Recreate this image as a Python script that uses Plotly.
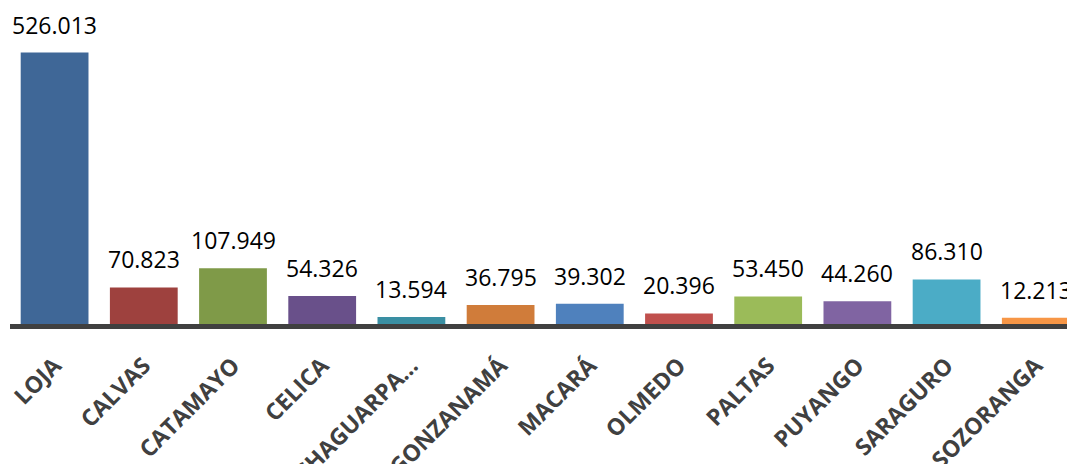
import plotly.graph_objects as go

cantones = ["LOJA", "CALVAS", "CATAMAYO", "CELICA", "CHAGUARPA…", "GONZANAMÁ",
            "MACARÁ", "OLMEDO", "PALTAS", "PUYANGO", "SARAGURO", "SOZORANGA"]
valores = [526.013, 70.823, 107.949, 54.326, 13.594, 36.795,
           39.302, 20.396, 53.450, 44.260, 86.310, 12.213]
etiquetas = ["526.013", "70.823", "107.949", "54.326", "13.594", "36.795",
             "39.302", "20.396", "53.450", "44.260", "86.310", "12.213"]
colores = ["#3F6797", "#9E413E", "#7F9A48", "#69508A", "#3A8FA3", "#D07C3A",
           "#4F81BD", "#C0504D", "#9BBB59", "#8064A2", "#4BACC6", "#F79646"]

fig = go.Figure(go.Bar(
    x=cantones,
    y=valores,
    marker_color=colores,
    marker_line_width=0,
))

for c, v, t in zip(cantones, valores, etiquetas):
    fig.add_annotation(
        x=c, y=v, text=t, showarrow=False,
        yanchor="bottom", yshift=10,
        font=dict(family="Open Sans", size=23, color="#000000"),
    )

fig.update_layout(
    width=1067, height=464,
    margin=dict(l=10, r=0, t=36, b=140),
    plot_bgcolor="white", paper_bgcolor="white",
    bargap=0.24,
    showlegend=False,
)
fig.update_xaxes(
    range=[-0.5, 11.35],
    automargin=False,
    showline=True, linewidth=5, linecolor="#404040",
    showgrid=False, ticks="",
    tickangle=-45,
    ticklabelstandoff=14,
    tickfont=dict(family="Open Sans", size=23, color="#404040", weight="bold"),
)
fig.update_yaxes(
    range=[0, 558],
    automargin=False,
    visible=False, showgrid=False, zeroline=False,
)

# drop the default 8px page margin so the figure fills the window
fig.write_html(
    "out.html",
    config={"displayModeBar": False},
    post_script="document.body.style.margin='0';document.body.style.overflow='hidden';",
)
